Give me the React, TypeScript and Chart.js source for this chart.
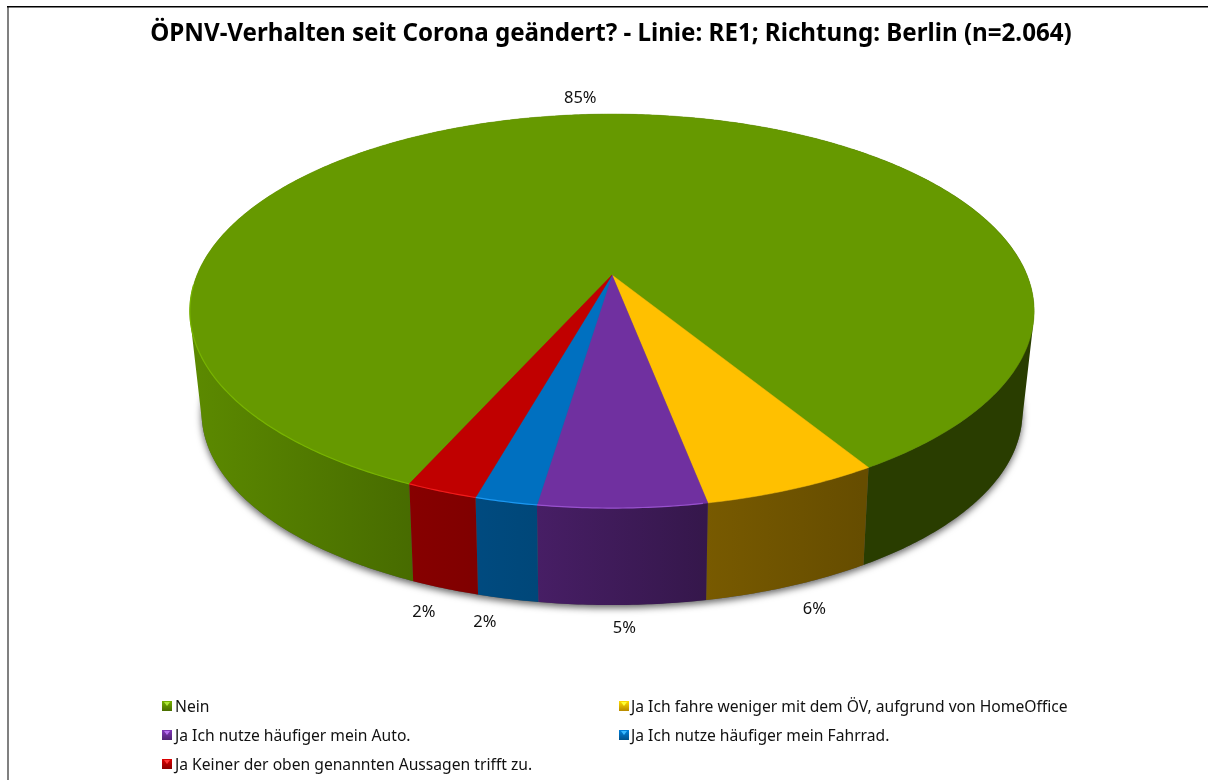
import React, { useEffect, useRef } from "react";
import { Chart, registerables } from "chart.js";

Chart.register(...registerables);

const TITLE = "ÖPNV-Verhalten seit Corona geändert? - Linie: RE1; Richtung: Berlin (n=2.064)";
const categories = [
  "Nein",
  "Ja Ich fahre weniger mit dem ÖV, aufgrund von HomeOffice",
  "Ja Ich nutze häufiger mein Auto.",
  "Ja Ich nutze häufiger mein Fahrrad.",
  "Ja Keiner der oben genannten Aussagen trifft zu.",
];
const shares = [84.6, 5.7, 5.4, 2.0, 2.3];
const shareLabels = ["85%", "6%", "5%", "2%", "2%"];
const colors: [number, number, number][] = [
  [102, 153, 0],
  [255, 192, 0],
  [112, 48, 160],
  [0, 112, 192],
  [192, 0, 0],
];

const FONT = '"Noto Sans", sans-serif';
const APEX_X = 612;
const APEX_Y = 275;
const PERSP = 0.183;
const RAD_X = 415;
const RAD_Y = 190.4;
const ELLIPSE_CY = 311;

const rim = (t: number): [number, number] => {
  const u = Math.cos(t);
  const v = Math.sin(t);
  const w = 1 - PERSP * v;
  return [APEX_X + (RAD_X * u) / w, APEX_Y + (RAD_Y * v) / w];
};
const lowerRim = (t: number): [number, number] => {
  const [x, y] = rim(t);
  const sx = 0.97 + 0.012 * Math.sin(t);
  return [APEX_X + (x - APEX_X) * sx, 410 + (y - ELLIPSE_CY) * 0.99];
};
const shade: [number, number][] = [
  [190, 0.9],
  [415, 0.7],
  [537, 0.63],
  [706, 0.47],
  [862, 0.4],
  [1034, 0.4],
];
const rgb = (c: number[], k: number) =>
  `rgb(${c.map((n) => Math.min(255, Math.round(n * k))).join(",")})`;

const arcPoints = (a: number, b: number, f: (t: number) => [number, number]) => {
  const n = Math.max(2, Math.ceil((b - a) / 0.01));
  const pts: [number, number][] = [];
  for (let i = 0; i <= n; i++) pts.push(f(a + ((b - a) * i) / n));
  return pts;
};

const pie3d = {
  id: "pie3d",
  beforeDraw(chart: any) {
    const { ctx, width, height } = chart;
    ctx.save();
    ctx.fillStyle = "#fff";
    ctx.fillRect(0, 0, width, height);
    ctx.fillStyle = "#808080";
    ctx.fillRect(7, 6, 2, height - 6);
    ctx.fillStyle = "#000";
    ctx.fillRect(7, 6, width - 7, 1.5);
    ctx.restore();
  },
  beforeDatasetDraw(chart: any) {
    const ctx: CanvasRenderingContext2D = chart.ctx;
    const arcs = chart.getDatasetMeta(0).data;
    ctx.save();

    // soft shadow under the base
    ctx.save();
    ctx.shadowColor = "rgba(0,0,0,0.6)";
    ctx.shadowBlur = 7;
    ctx.shadowOffsetY = 3;
    ctx.fillStyle = "#555";
    ctx.beginPath();
    arcPoints(0, Math.PI * 2, lowerRim).forEach(([x, y], i) => (i ? ctx.lineTo(x, y) : ctx.moveTo(x, y)));
    ctx.closePath();
    ctx.fill();
    ctx.restore();

    // walls: thin quads of equal winding in one path, so the silhouette is the hull of both rims
    arcs.forEach((arc: any, i: number) => {
      const g = ctx.createLinearGradient(190, 0, 1034, 0);
      shade.forEach(([x, k]) => g.addColorStop((x - 190) / 844, rgb(colors[i], k)));
      const top = arcPoints(arc.startAngle, arc.endAngle, rim);
      const low = arcPoints(arc.startAngle, arc.endAngle, lowerRim);
      ctx.fillStyle = g;
      ctx.beginPath();
      for (let k = 0; k < top.length - 1; k++) {
        const quad = [top[k], top[k + 1], low[k + 1], low[k]];
        let area = 0;
        quad.forEach((p, j) => {
          const q = quad[(j + 1) % 4];
          area += p[0] * q[1] - q[0] * p[1];
        });
        if (area < 0) quad.reverse();
        quad.forEach(([x, y], j) => (j ? ctx.lineTo(x, y) : ctx.moveTo(x, y)));
        ctx.closePath();
      }
      ctx.fill();
    });

    // top faces
    arcs.forEach((arc: any, i: number) => {
      ctx.fillStyle = rgb(colors[i], 1);
      ctx.strokeStyle = rgb(colors[i], 1);
      ctx.lineWidth = 0.5;
      ctx.beginPath();
      ctx.moveTo(APEX_X, APEX_Y);
      arcPoints(arc.startAngle, arc.endAngle, rim).forEach(([x, y]) => ctx.lineTo(x, y));
      ctx.closePath();
      ctx.fill();
      ctx.stroke();
    });

    // rim highlight on the lit side
    arcs.forEach((arc: any, i: number) => {
      ctx.strokeStyle = i === 0 ? "#78b400" : rgb(colors[i].map((c) => c + 24), 1.12);
      ctx.lineWidth = 1.2;
      ctx.beginPath();
      let pen = false;
      const n = Math.ceil((arc.endAngle - arc.startAngle) / 0.01);
      for (let k = 0; k <= n; k++) {
        const t = arc.startAngle + ((arc.endAngle - arc.startAngle) * k) / n;
        const [x, y] = rim(t);
        if (x < 706 && Math.sin(t) > 0.05) {
          if (pen) ctx.lineTo(x, y);
          else ctx.moveTo(x, y);
          pen = true;
        } else pen = false;
      }
      ctx.stroke();
    });

    // value labels
    const nudge: [number, number][] = [
      [-9, -16],
      [25, 23],
      [2, 23],
      [-23, 23],
      [-21, 24],
    ];
    ctx.fillStyle = "#111";
    ctx.font = `16.5px ${FONT}`;
    ctx.textAlign = "center";
    ctx.textBaseline = "middle";
    arcs.forEach((arc: any, i: number) => {
      const mid = (arc.startAngle + arc.endAngle) / 2;
      const [x, y] = i === 0 ? rim(mid) : lowerRim(mid);
      ctx.fillText(shareLabels[i], x + nudge[i][0], y + nudge[i][1]);
    });

    // legend
    const slots: [number, number][] = [
      [162, 706],
      [619, 706],
      [162, 735],
      [619, 735],
      [162, 764],
    ];
    ctx.font = `15.65px ${FONT}`;
    ctx.textAlign = "left";
    categories.forEach((label, i) => {
      const [x, y] = slots[i];
      const c = colors[i];
      const g = ctx.createLinearGradient(0, y - 5, 0, y + 5);
      g.addColorStop(0, rgb(c, 1.15));
      g.addColorStop(1, rgb(c, 0.72));
      ctx.fillStyle = g;
      ctx.fillRect(x, y - 5, 10, 10);
      ctx.fillStyle = rgb(c.map((n) => n + 50), 1.15);
      ctx.beginPath();
      ctx.moveTo(x + 2, y - 4);
      ctx.lineTo(x + 8, y - 4);
      ctx.lineTo(x + 5, y);
      ctx.closePath();
      ctx.fill();
      ctx.fillStyle = "#111";
      ctx.fillText(label, x + (x < 500 ? 13 : 12), y + 1.5);
    });

    ctx.restore();
    return false;
  },
};

export default function App() {
  const ref = useRef<HTMLCanvasElement>(null);
  useEffect(() => {
    document.body.style.margin = "0";
    const chart = new Chart(ref.current!, {
      type: "pie",
      data: {
        labels: categories,
        datasets: [
          {
            data: shares,
            backgroundColor: colors.map((c) => rgb(c, 1)),
            borderWidth: 0,
          },
        ],
      },
      options: {
        responsive: false,
        animation: false,
        rotation: 204,
        layout: { padding: { left: 14 } },
        plugins: {
          legend: { display: false },
          tooltip: { enabled: false },
          title: {
            display: true,
            text: TITLE,
            color: "#000",
            font: { family: FONT, size: 24.15, weight: "bold" },
            padding: { top: 20, bottom: 10 },
          },
        },
      },
      plugins: [pie3d],
    } as any);
    return () => chart.destroy();
  }, []);
  return <canvas ref={ref} width={1208} height={780} style={{ display: "block" }} />;
}
